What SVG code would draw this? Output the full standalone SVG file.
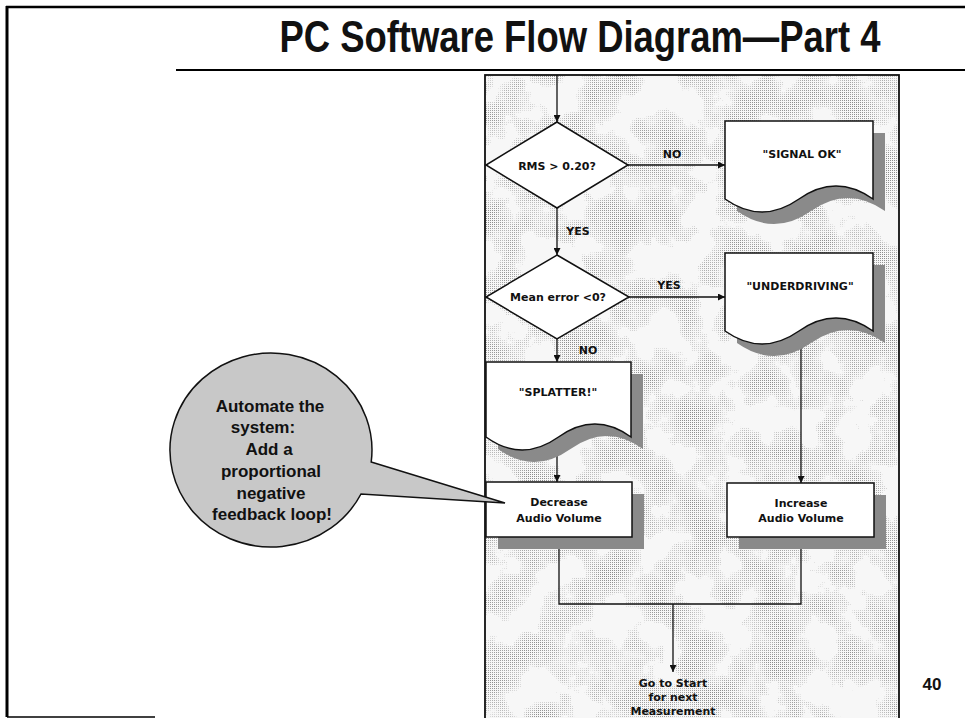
<svg xmlns="http://www.w3.org/2000/svg" width="965" height="718" viewBox="0 0 965 718">
<style>
.frame{stroke:#000;fill:none}
.shape{fill:#fff;stroke:#111;stroke-width:1.5}
.shadow{fill:#8a8a8a}
.lbl{font-family:"DejaVu Sans","Liberation Sans",sans-serif;font-weight:bold;font-size:11px;fill:#111;text-anchor:middle}
.conn{stroke:#111;stroke-width:1.3;fill:none}
.call{font-family:"Liberation Sans",Arial,sans-serif;font-weight:bold;font-size:17px;fill:#111;text-anchor:middle}
</style>
<defs>
<marker id="arr" viewBox="0 0 10 10" refX="10" refY="5" markerWidth="7" markerHeight="7" markerUnits="userSpaceOnUse" orient="auto"><path d="M0,0 L10,5 L0,10 Z" fill="#111"/></marker>
<pattern id="dots" width="2" height="2" patternUnits="userSpaceOnUse"><rect width="1" height="1" fill="#8c8c8c"/></pattern>
<filter id="noise" x="0" y="0" width="100%" height="100%">
<feTurbulence type="fractalNoise" baseFrequency="0.025" numOctaves="4" seed="7"/>
<feColorMatrix type="matrix" values="3.2 0 0 0 -1.4  3.2 0 0 0 -1.4  3.2 0 0 0 -1.4  0 0 0 0 1"/>
</filter>
<mask id="blotch"><rect x="485" y="75" width="414" height="643" fill="#fff" filter="url(#noise)"/></mask>
</defs>
<rect width="965" height="718" fill="#fff"/>
<g id="slide-frame">
<line class="frame" x1="7" y1="6" x2="7" y2="717" stroke-width="3"/>
<line class="frame" x1="6" y1="7" x2="965" y2="7" stroke-width="2.5"/>
<line class="frame" x1="7" y1="717" x2="155" y2="717" stroke-width="1.5"/>
<line class="frame" x1="176" y1="70" x2="965" y2="70" stroke-width="1.8"/>
</g>
<text id="title" x="0" y="0" transform="translate(580,52) scale(0.828,1)" font-family="'Liberation Sans',Arial,sans-serif" font-weight="bold" font-size="44" text-anchor="middle" fill="#111">PC Software Flow Diagram—Part 4</text>
<g id="panel">
<rect x="485" y="75" width="414" height="660" fill="#f7f7f7"/>
<rect x="485" y="75" width="414" height="643" fill="url(#dots)" mask="url(#blotch)"/>
<rect x="485" y="75" width="414" height="660" fill="none" stroke="#111" stroke-width="1.8"/>
</g>
<g id="connectors">
<line class="conn" x1="557" y1="75" x2="557" y2="122" marker-end="url(#arr)"/>
<line class="conn" x1="628" y1="165" x2="725" y2="165" marker-end="url(#arr)"/>
<line class="conn" x1="557" y1="208" x2="557" y2="255" marker-end="url(#arr)"/>
<line class="conn" x1="629" y1="297" x2="725" y2="297" marker-end="url(#arr)"/>
<line class="conn" x1="557" y1="339" x2="557" y2="362" marker-end="url(#arr)"/>
<line class="conn" x1="557" y1="438" x2="557" y2="482" marker-end="url(#arr)"/>
<line class="conn" x1="801" y1="331" x2="801" y2="483" marker-end="url(#arr)"/>
<polyline class="conn" points="559,537 559,604 801,604 801,537"/>
<line class="conn" x1="673" y1="604" x2="673" y2="672" marker-end="url(#arr)"/>
<text class="lbl" x="672" y="158">NO</text>
<text class="lbl" x="578" y="235">YES</text>
<text class="lbl" x="669" y="289">YES</text>
<text class="lbl" x="588" y="354">NO</text>
</g>
<g id="rms-decision">
<polygon class="shape" points="557,122 628,165 557,208 486,165"/>
<text class="lbl" x="557" y="170">RMS &gt; 0.20?</text>
</g>
<g id="signal-ok">
<path class="shadow" transform="translate(12,12)" d="M725,121 H873 V199 Q836,173 799,199 T725,199 Z"/>
<path class="shape" d="M725,121 H873 V199 Q836,173 799,199 T725,199 Z"/>
<text class="lbl" x="802" y="158">"SIGNAL OK"</text>
</g>
<g id="mean-error-decision">
<polygon class="shape" points="557,255 629,297 557,339 486,297"/>
<text class="lbl" x="558" y="301">Mean error &lt;0?</text>
</g>
<g id="underdriving">
<path class="shadow" transform="translate(12,12)" d="M725,253 H873 V331 Q836,305 799,331 T725,331 Z"/>
<path class="shape" d="M725,253 H873 V331 Q836,305 799,331 T725,331 Z"/>
<text class="lbl" x="800" y="290" font-size="11.5">"UNDERDRIVING"</text>
</g>
<g id="splatter">
<path class="shadow" transform="translate(12,12)" d="M486,362 H631 V437 Q595,411 558.5,437 T486,437 Z"/>
<path class="shape" d="M486,362 H631 V437 Q595,411 558.5,437 T486,437 Z"/>
<text class="lbl" x="558" y="396">"SPLATTER!"</text>
</g>
<g id="decrease-volume">
<rect class="shadow" x="498" y="494" width="146" height="55"/>
<rect class="shape" x="486" y="482" width="146" height="55"/>
<text class="lbl" x="559" y="506">Decrease</text>
<text class="lbl" x="559" y="522">Audio Volume</text>
</g>
<g id="increase-volume">
<rect class="shadow" x="739" y="495" width="147" height="54"/>
<rect class="shape" x="727" y="483" width="147" height="54"/>
<text class="lbl" x="801" y="507">Increase</text>
<text class="lbl" x="801" y="522">Audio Volume</text>
</g>
<g id="go-to-start">
<text class="lbl" x="673" y="687">Go to Start</text>
<text class="lbl" x="673" y="701">for next</text>
<text class="lbl" x="673" y="715">Measurement</text>
</g>
<g id="callout">
<path d="M371.2,462 L505,503 L361,494 A101,97 0 1 1 371.2,462 Z" fill="#c8c8c8" stroke="#111" stroke-width="1.5"/>
<text class="call" x="270" y="412">Automate the</text>
<text class="call" x="263" y="433">system:</text>
<text class="call" x="269" y="455">Add a</text>
<text class="call" x="271" y="477">proportional</text>
<text class="call" x="271" y="499">negative</text>
<text class="call" x="272" y="520">feedback loop!</text>
</g>
<text id="page-number" x="932" y="690" font-family="'Liberation Sans',Arial,sans-serif" font-weight="bold" font-size="17" text-anchor="middle" fill="#111">40</text>
</svg>
